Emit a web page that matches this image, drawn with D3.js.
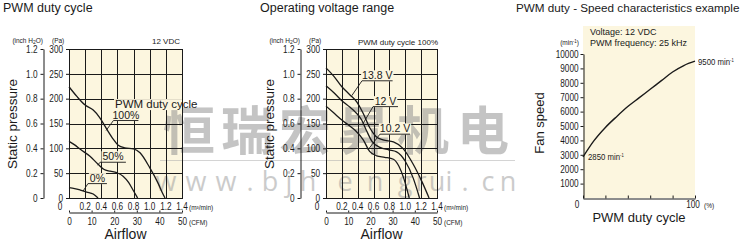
<!DOCTYPE html>
<html>
<head>
<meta charset="utf-8">
<script src="https://cdn.jsdelivr.net/npm/d3@7"></script>
<style>
  body { margin: 0; background: #fff; }
  svg { display: block; }
  text { font-family: "Liberation Sans", Arial, sans-serif; fill: #1a1a1a; }
  .tk text, text.tk { font-family: "Liberation Sans", Arial, sans-serif; font-size: 10px; fill: #1a1a1a; }
  .unit { font-size: 6.5px; }
</style>
</head>
<body>
<div id="chart"></div>
<script>
//tick values
const flowTicks = [0, 0.2, 0.4, 0.6, 0.8, 1.0, 1.2, 1.4];
const cfmTicks = [0, 10, 20, 30, 40, 50];
const paTicks = [0, 50, 100, 150, 200, 250, 300];
const inchTicks = [0, 0.2, 0.4, 0.6, 0.8, 1.0, 1.2];
const speedTicks = [1000, 2000, 3000, 4000, 5000, 6000, 7000, 8000, 9000, 10000];
const dutyTicks = [0, 20, 40, 60, 80, 100];

//PWM duty cycle curves: [airflow m3/min, static pressure Pa]
const duty100 = [[0, 224], [0.1, 204], [0.2, 187], [0.3, 177], [0.38, 162], [0.47, 138], [0.55, 118], [0.61, 106], [0.69, 101], [0.8, 99], [0.88, 91], [1.0, 61], [1.1, 31], [1.17, 6], [1.19, 0]];
const duty50 = [[0, 114], [0.07, 107], [0.14, 98], [0.26, 84], [0.36, 68], [0.43, 58], [0.51, 54], [0.59, 51], [0.67, 44], [0.74, 31], [0.8, 14], [0.85, 0]];
const duty0 = [[0, 21], [0.07, 19], [0.14, 16], [0.22, 12], [0.3, 8], [0.36, 0]];

//operating voltage curves: [airflow m3/min, static pressure Pa]
const volt138 = [[0, 262], [0.1, 245], [0.2, 224], [0.3, 208], [0.39, 193], [0.47, 170], [0.55, 142], [0.63, 124], [0.72, 117], [0.85, 113], [0.97, 100], [1.1, 68], [1.21, 33], [1.3, 0]];
const volt120 = [[0, 226], [0.1, 212], [0.2, 196], [0.3, 183], [0.37, 173], [0.45, 157], [0.51, 136], [0.58, 114], [0.68, 102], [0.79, 97], [0.89, 93], [1.0, 74], [1.1, 40], [1.18, 0]];
const volt102 = [[0, 185], [0.1, 171], [0.2, 157], [0.3, 145], [0.37, 136], [0.47, 117], [0.55, 94], [0.64, 85], [0.74, 82], [0.85, 78], [0.92, 64], [0.98, 40], [1.05, 0]];

//duty vs speed
const dutyPct = [0, 10, 20, 30, 40, 50, 60, 70, 80, 90, 100];
const fanSpeed = [2850, 4000, 4900, 5650, 6350, 6950, 7550, 8150, 8750, 9200, 9500];

const width = 750;
const height = 244;
const cream = "#fcf6df";
const ink = "#1a1a1a";

const svg = d3.select("#chart")
  .append("svg")
  .attr("width", width)
  .attr("height", height);

//squeeze tick text to look like a narrow face
function narrow(sel, k = 0.82) {
  sel.each(function() {
    const w = this.getComputedTextLength();
    d3.select(this).attr("textLength", w * k).attr("lengthAdjust", "spacingAndGlyphs");
  });
}

//plot boxes
const box1 = { left: 69, right: 182, top: 49, bottom: 198 };
const box2 = { left: 326, right: 437, top: 49, bottom: 198 };
const box3 = { left: 583, right: 695, top: 54, bottom: 198 };

//cream backgrounds first, watermark goes over them
[box1, box2].forEach(b => {
  svg.append("rect").attr("x", b.left).attr("y", b.top)
    .attr("width", b.right - b.left).attr("height", b.bottom - b.top).attr("fill", cream);
});
svg.append("rect").attr("x", box3.left).attr("y", 26)
  .attr("width", box3.right - box3.left).attr("height", box3.bottom - 26).attr("fill", cream);

//watermark
const wm = svg.append("g").attr("opacity", 0.5);
wm.append("text")
  .attr("x", "163 221 279 338 397 457")
  .attr("y", 150)
  .style("font-family", "'Noto Sans CJK SC', sans-serif")
  .style("font-weight", "bold")
  .style("font-size", "52px")
  .style("fill", "#8a8a8a")
  .text("恒瑞宏昇机电");
wm.append("line").attr("x1", 160).attr("x2", 515).attr("y1", 160.5).attr("y2", 160.5)
  .attr("stroke", "#aaa").attr("stroke-width", 1);
wm.append("text")
  .attr("x", "166 196 226 250 270 289 308 345 375 405 421 437 449 465 488 508")
  .attr("y", 191)
  .attr("text-anchor", "middle")
  .style("font-family", "'Open Sans', sans-serif")
  .style("font-size", "27px")
  .style("fill", "#999")
  .text("www.bjhengrui.cn");

//titles
svg.append("text").attr("x", 3).attr("y", 12).style("font-size", "12.5px").text("PWM duty cycle");
svg.append("text").attr("x", 260).attr("y", 12).style("font-size", "12.5px").text("Operating voltage range");
svg.append("text").attr("x", 516).attr("y", 12).style("font-size", "11.7px").text("PWM duty - Speed characteristics example");

//draw a P-Q panel
function drawPQ(box, curves, notes) {
  const x = d3.scaleLinear().domain([0, 1.4]).range([box.left, box.right]);
  const y = d3.scaleLinear().domain([0, 300]).range([box.bottom, box.top]);
  const yIn = d3.scaleLinear().domain([0, 1.2]).range([box.bottom, box.top]);
  const xCfm = d3.scaleLinear().domain([0, 50]).range([box.left, box.right]);
  const g = svg.append("g");

  //grid
  g.selectAll(".vg").data(flowTicks).join("line")
    .attr("x1", d => Math.round(x(d)) + 0.5).attr("x2", d => Math.round(x(d)) + 0.5)
    .attr("y1", box.top).attr("y2", box.bottom)
    .attr("stroke", ink).attr("stroke-width", 1);
  g.selectAll(".hg").data(paTicks).join("line")
    .attr("x1", box.left).attr("x2", box.right + 1)
    .attr("y1", d => Math.round(y(d)) + 0.5).attr("y2", d => Math.round(y(d)) + 0.5)
    .attr("stroke", ink).attr("stroke-width", 1);

  //inch H2O axis
  g.append("g").attr("class", "tk")
    .attr("transform", `translate(${box.left - 25.5},0)`)
    .call(d3.axisLeft(yIn).tickValues(inchTicks).tickSize(3).tickSizeOuter(0).tickPadding(3)
      .tickFormat(d => d === 0 ? "0" : d.toFixed(1)))
    .call(a => a.selectAll("line,path").attr("stroke", ink));

  //Pa axis
  g.append("g").attr("class", "tk")
    .attr("transform", `translate(${box.left},0)`)
    .call(d3.axisLeft(y).tickValues(paTicks).tickSize(3).tickPadding(3))
    .call(a => a.select(".domain").remove())
    .call(a => a.selectAll("line").attr("stroke", ink));

  //m3/min labels
  g.selectAll(".fl").data(flowTicks).join("text")
    .attr("class", "tk")
    .attr("x", d => d === 0 ? x(0) - 9 : x(d))
    .attr("y", 210)
    .attr("text-anchor", "middle")
    .text(d => d === 0 ? "0" : d.toFixed(1));

  //CFM axis
  g.append("g").attr("class", "tk")
    .attr("transform", "translate(0,212.5)")
    .call(d3.axisBottom(xCfm).tickValues(cfmTicks).tickSizeInner(-2).tickSizeOuter(0).tickPadding(5))
    .call(a => a.selectAll("line,path").attr("stroke", ink));

  //units
  g.append("text").attr("class", "unit").attr("x", box.right + 7).attr("y", 210).text("(m³/min)");
  g.append("text").attr("class", "unit").attr("x", box.right + 7).attr("y", 225).text("(CFM)");
  const inch = g.append("text").attr("class", "unit").attr("x", box.left - 26).attr("y", 43).attr("text-anchor", "end");
  inch.append("tspan").text("(inch H");
  inch.append("tspan").attr("font-size", "5px").attr("dy", 1).text("2");
  inch.append("tspan").attr("dy", -1).text("O)");
  g.append("text").attr("class", "unit").attr("x", box.left - 17).attr("y", 43).text("(Pa)");

  //axis titles
  g.append("text").attr("x", (box.left + box.right) / 2).attr("y", 239)
    .attr("text-anchor", "middle").style("font-size", "14px").text("Airflow");
  g.append("text").attr("transform", `translate(${box.left - 52},124) rotate(-90)`)
    .attr("text-anchor", "middle").style("font-size", "13.5px").text("Static pressure");

  //curves
  const line = d3.line().x(d => x(d[0])).y(d => y(d[1])).curve(d3.curveMonotoneX);
  g.selectAll(".curve").data(curves).join("path")
    .attr("d", line)
    .attr("fill", "none")
    .attr("stroke", ink)
    .attr("stroke-width", 1.3);

  //labels with underline and leader
  notes.forEach(n => {
    const t = g.append("text")
      .attr("x", n.u ? (x(n.u[0]) + x(n.u[1])) / 2 : x(n.x))
      .attr("y", y(n.y))
      .attr("text-anchor", n.u ? "middle" : "start")
      .style("font-size", n.size + "px")
      .text(n.text);
    const bb = t.node().getBBox();
    const x1 = Math.min(bb.x + bb.width + 1, box.right);
    g.insert("rect", () => t.node())
      .attr("x", bb.x - 1).attr("y", bb.y + 1)
      .attr("width", Math.max(0, x1 - bb.x + 1)).attr("height", bb.height - 1)
      .attr("fill", cream);
    if (n.u) {
      g.append("line")
        .attr("x1", x(n.u[0])).attr("x2", x(n.u[1]))
        .attr("y1", y(n.u[2])).attr("y2", y(n.u[2]))
        .attr("stroke", ink).attr("stroke-width", 0.9);
      g.append("line")
        .attr("x1", x(n.u[0])).attr("y1", y(n.u[2]))
        .attr("x2", x(n.tip[0])).attr("y2", y(n.tip[1]))
        .attr("stroke", ink).attr("stroke-width", 0.9);
    }
  });
}

drawPQ(box1, [duty100, duty50, duty0], [
  { text: "PWM duty cycle", x: 0.57, y: 181, size: 11.5 },
  { text: "100%", y: 159, u: [0.55, 0.86, 156], tip: [0.46, 136], size: 10.5 },
  { text: "50%", y: 76, u: [0.385, 0.705, 72], tip: [0.355, 66], size: 10.5 },
  { text: "0%", y: 32, u: [0.235, 0.47, 29], tip: [0.175, 14], size: 10.5 }
]);
drawPQ(box2, [volt138, volt120, volt102], [
  { text: "13.8 V", y: 239, u: [0.454, 0.84, 236], tip: [0.325, 206], size: 10.5 },
  { text: "12 V", y: 187, u: [0.593, 0.908, 184], tip: [0.468, 150], size: 10.5 },
  { text: "10.2 V", y: 132, u: [0.68, 1.06, 128.5], tip: [0.53, 97], size: 10.5 }
]);

//panel notes above the grids
svg.append("text").attr("x", box1.right - 2).attr("y", 44).attr("text-anchor", "end")
  .style("font-size", "8px").text("12 VDC");
svg.append("text").attr("x", box2.right + 1).attr("y", 45).attr("text-anchor", "end")
  .style("font-size", "8px").text("PWM duty cycle 100%");

//duty vs speed panel
const xd = d3.scaleLinear().domain([0, 100]).range([box3.left, box3.right]);
const ys = d3.scaleLinear().domain([0, 10000]).range([box3.bottom, box3.top]);
const g3 = svg.append("g");

g3.append("g").attr("class", "tk")
  .attr("transform", `translate(${box3.left + 0.5},0)`)
  .call(d3.axisLeft(ys).tickValues(speedTicks).tickSize(3).tickSizeOuter(0).tickPadding(2).tickFormat(d3.format("d")))
  .call(a => a.selectAll("line,path").attr("stroke", ink));

g3.append("g")
  .attr("transform", `translate(0,${box3.bottom + 0.5})`)
  .call(d3.axisBottom(xd).tickValues(dutyTicks).tickSizeInner(-3).tickSizeOuter(0).tickFormat(""))
  .call(a => a.selectAll("line,path").attr("stroke", ink));

g3.append("text").attr("class", "tk").attr("x", box3.left - 6).attr("y", 208).attr("text-anchor", "middle").text("0");
g3.append("text").attr("class", "tk").attr("x", xd(100) - 2).attr("y", 208).attr("text-anchor", "middle").text("100");
g3.append("text").attr("class", "unit").attr("x", xd(100) + 9).attr("y", 208).text("(%)");

const u3 = g3.append("text").attr("class", "unit").attr("x", box3.left - 4).attr("y", 45).attr("text-anchor", "end");
u3.append("tspan").text("(min");
u3.append("tspan").attr("font-size", "4.5px").attr("dy", -2).text("-1");
u3.append("tspan").attr("dy", 2).text(")");

g3.append("text").attr("x", box3.left + 7).attr("y", 35).style("font-size", "9px").text("Voltage: 12 VDC");
g3.append("text").attr("x", box3.left + 7).attr("y", 45.5).style("font-size", "9px").text("PWM frequency: 25 kHz");

g3.append("path")
  .datum(dutyPct.map((d, i) => [d, fanSpeed[i]]))
  .attr("d", d3.line().x(d => xd(d[0])).y(d => ys(d[1])).curve(d3.curveMonotoneX))
  .attr("fill", "none")
  .attr("stroke", ink)
  .attr("stroke-width", 1.4);

//end point labels
function speedLabel(xp, yp, value) {
  const t = g3.append("text").attr("class", "tk").attr("x", xp).attr("y", yp).style("font-size", "9.5px");
  t.append("tspan").text(value + " min");
  t.append("tspan").attr("font-size", "5px").attr("dy", -3).text("-1");
}
speedLabel(xd(100) + 3, 65, fanSpeed[fanSpeed.length - 1]);
speedLabel(xd(0) + 5, 160, fanSpeed[0]);

g3.append("text").attr("x", (box3.left + box3.right) / 2).attr("y", 221.5)
  .attr("text-anchor", "middle").style("font-size", "13px").text("PWM duty cycle");
g3.append("text").attr("transform", `translate(544,123) rotate(-90)`)
  .attr("text-anchor", "middle").style("font-size", "13px").text("Fan speed");

//narrow face for all tick numbers
svg.selectAll(".tk text, text.tk").call(narrow);
</script>
</body>
</html>
